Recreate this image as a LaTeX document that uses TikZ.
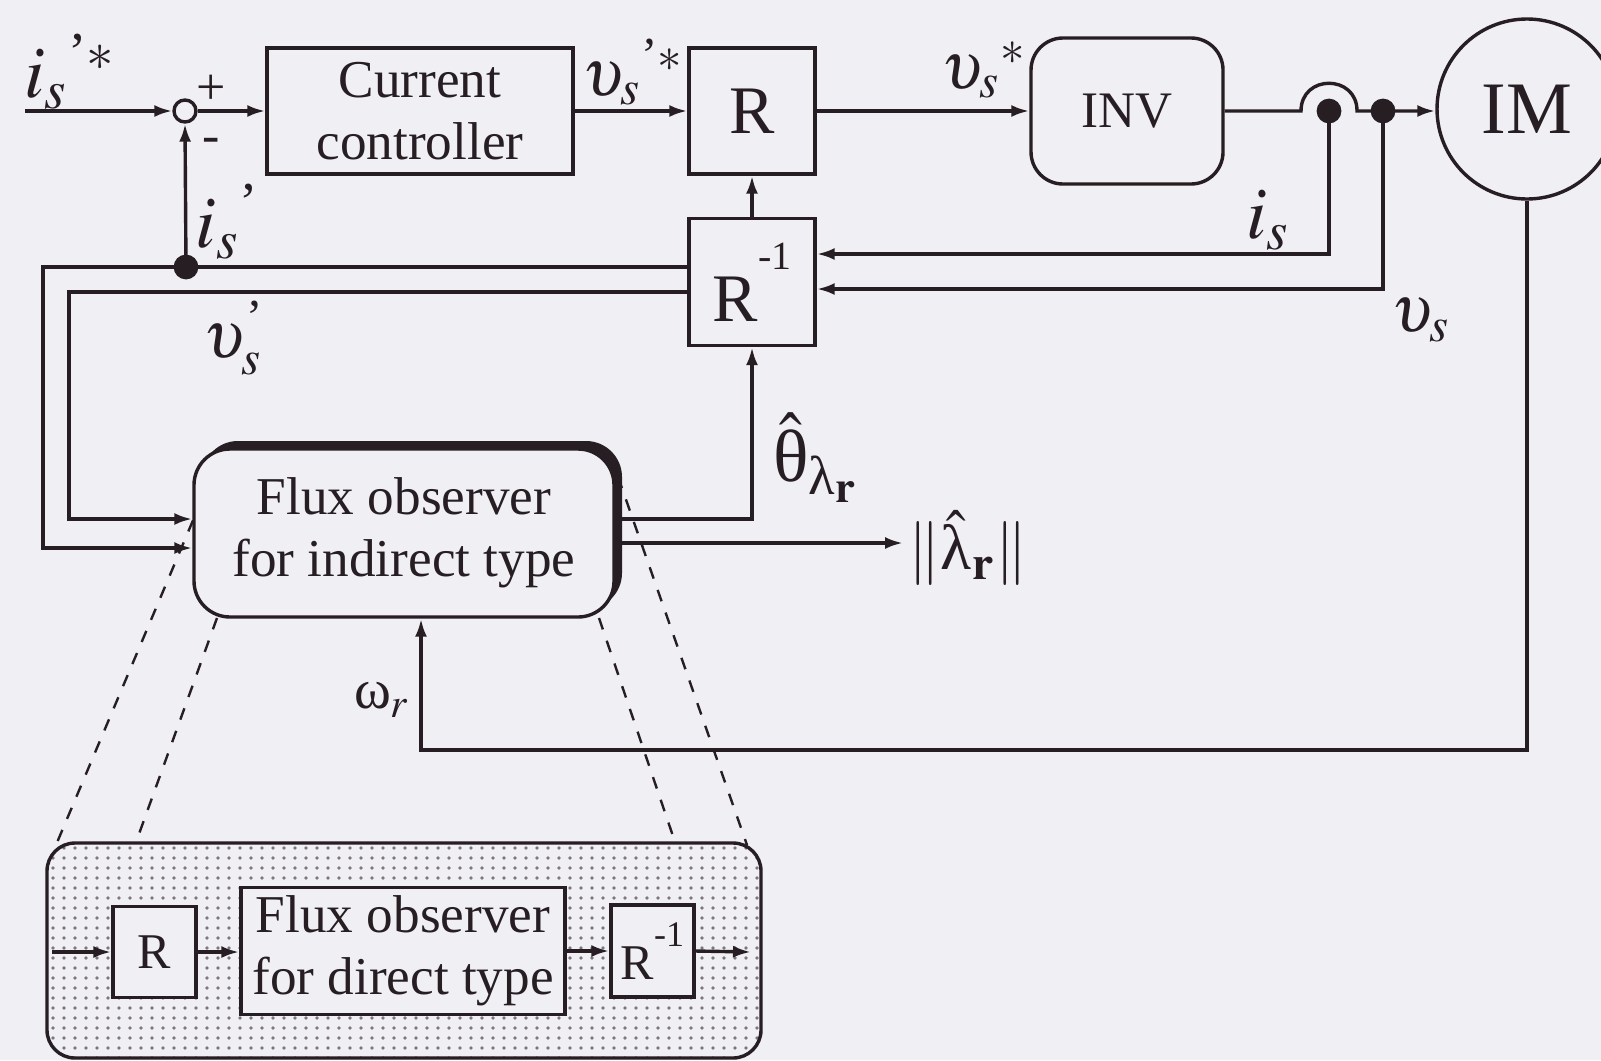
\documentclass[tikz,border=0pt]{standalone}
\usepackage{amsmath}
\usepackage{mathptmx}
\usepackage[no-math]{fontspec}
\setmainfont{Liberation Serif}
\usetikzlibrary{arrows.meta,calc}
\definecolor{bg}{RGB}{240,239,243}
\definecolor{ink}{RGB}{38,30,34}
\definecolor{dotc}{RGB}{125,118,124}
\newcommand{\ap}{\text{’}}
\begin{document}
\begin{tikzpicture}[x=0.25pt,y=-0.25pt,line width=0.85pt,color=ink,
  arr/.style={-{Latex[length=4.5pt,width=3pt]}},
  box/.style={draw,fill=bg,inner sep=0pt,align=center},
  txt/.style={font=\fontsize{13.3}{15.5}\selectfont},
  lab/.style={font=\fontsize{18.5}{21}\selectfont,inner sep=0pt},
  ulab/.style={font=\fontsize{16.5}{19}\selectfont,inner sep=0pt},
  dashln/.style={dash pattern=on 3pt off 3pt,line width=0.6pt},
  jdot/.style={circle,fill=ink,inner sep=0pt,minimum size=6.2pt}]
\fill[bg] (0,0) rectangle (1601,1060);
\useasboundingbox (0,0) rectangle (1601,1060);

% dashed zoom lines
\coordinate (ol1) at (221,454); \coordinate (ol2) at (56,845);
\coordinate (il1) at (217,618); \coordinate (il2) at (135,845);
\coordinate (ir1) at (599,618); \coordinate (ir2) at (676,845);
\coordinate (or1) at (610,454); \coordinate (or2) at (747,845);
\draw[dashln] (ol1) -- (ol2);
\draw[dashln] (il1) -- (il2);
\draw[dashln] (ir1) -- (ir2);
\draw[dashln] (or1) -- (or2);

% flux observer (indirect) with shadow
\fill[rounded corners=9pt] (202,441) rectangle (622,609);
\node[box,rounded corners=9pt,minimum width=105pt,minimum height=42pt,txt] (fo) at (404,533) {Flux observer\\for indirect type};

% lower dotted box
\begin{scope}
\clip[rounded corners=7pt] (47,843) rectangle (761,1058);
\fill[bg] (47,843) rectangle (761,1058);
\foreach \i in {0,...,64}{\foreach \j in {0,...,21}{\fill[dotc] (53+11*\i,848+10*\j) circle (0.45pt);}}
\end{scope}
\draw[rounded corners=7pt] (47,843) rectangle (761,1058);
\node[box,minimum width=20.75pt,minimum height=22.75pt,font=\fontsize{12.5}{14}\selectfont] (lR) at (154.5,952) {R};
\node[box,minimum width=81pt,minimum height=31.75pt,txt] (lF) at (403,951) {Flux observer\\for direct type};
\node[box,minimum width=20.75pt,minimum height=23pt,font=\fontsize{12.5}{14}\selectfont] (lRi) at (652.5,951) {R\raisebox{8.3pt}{\fontsize{9}{9}\selectfont -1}};
\coordinate (lin) at (52,952);
\coordinate (lout) at (751,952);
\draw[arr] (lin) -- (lR.west);
\draw[arr] (lR.east) -- (lF.west |- lR.east);
\draw[arr] (lF.east |- lRi.west) -- (lRi.west);
\draw[arr] (lRi.east) -- (lout);

% top row
\node[box,circle,minimum size=5.5pt] (sum) at (185,111) {};
\node[box,minimum width=76.5pt,minimum height=31.5pt,txt] (cc) at (420,111) {Current\\controller};
\node[box,minimum width=31.5pt,minimum height=31.5pt,font=\fontsize{17}{19}\selectfont] (R) at (752,111) {R};
\node[box,rounded corners=8pt,minimum width=48pt,minimum height=36.5pt,font=\fontsize{12.8}{15}\selectfont] (inv) at (1127,111) {INV};
\node[box,circle,minimum size=45pt,font=\fontsize{18.5}{20}\selectfont] (im) at (1527,109) {IM};
\node[box,minimum width=31.5pt,minimum height=31.75pt,font=\fontsize{17}{19}\selectfont] (ri) at (752,282) {R\raisebox{13pt}{\fontsize{10}{10}\selectfont -1}};

\node[font=\fontsize{13}{13}\selectfont,inner sep=0pt] (plus) at (211,90) {+};
\node[font=\fontsize{13}{13}\selectfont,inner sep=0pt] (minus) at (211,145) {-};

\coordinate (in) at (25,111);
\draw[arr] (in) -- (sum.west);
\draw[arr] (sum.east) -- (cc.west);
\draw[arr] (cc.east) -- (R.west);
\draw[arr] (R.east) -- (inv.west);

\coordinate (j1) at (1301,111);
\coordinate (j2) at (1357,111);
\node[jdot] (d1) at (1329,111) {};
\node[jdot] (d2) at (1383,111) {};
\draw[arr] (inv.east) -- (j1) .. controls (1301,74) and (1357,74) .. (j2) -- (im.west |- j2);

\coordinate (c1) at (1329,254);
\coordinate (c2) at (1383,289);
\draw[arr] (d1.center) -- (c1) -- (c1 -| ri.east);
\draw[arr] (d2.center) -- (c2) -- (c2 -| ri.east);
\draw[arr] (ri.north) -- (R.south);

\node[jdot] (d3) at (186,267) {};
\draw[arr] (d3.center) -- (sum.south);
\coordinate (a1) at (43,267); \coordinate (a2) at (43,548);
\draw[arr] (a1 -| ri.west) -- (a1) -- (a2) -- (a2 -| fo.west);
\coordinate (b1) at (69,292); \coordinate (b2) at (69,519);
\draw[arr] (b1 -| ri.west) -- (b1) -- (b2) -- (b2 -| fo.west);

\coordinate (e1) at (752,519);
\draw[arr] (e1 -| fo.east) -- (e1) -- (ri.south);
\coordinate (e2) at (903,543);
\draw[arr] (e2 -| fo.east) -- (e2);

\coordinate (w1) at (1527,750); \coordinate (w2) at (421,750);
\draw[arr] (im.south) -- (w1) -- (w2) -- (w2 |- fo.south);

% labels
\node[lab] (lis) at (70,72) {$i_s{}^{\ap *}$};
\node[ulab] (lvs1) at (633,72) {$\upsilon_s{}^{\ap *}$};
\node[ulab] (lvs2) at (984,70) {$\upsilon_s{}^{*}$};
\node[lab] (lis2) at (228,222) {$i_s{}^{\ap}$};
\node[ulab] (lvs3) at (234,338) {$\upsilon^{\ap}_s$};
\node[lab] (lis3) at (1268,220) {$i_s$};
\node[ulab] (lvs4) at (1421,320) {$\upsilon_s$};
\node[lab] (lth) at (816,458) {$\hat{\text{θ}}_{\text{λ}_{\mathbf{r}}}$};
\node[lab,font=\fontsize{16}{18}\selectfont] (lam) at (968,548) {$\|\hat{\text{λ}}_{\mathbf{r}}\|$};
\node[lab,font=\fontsize{14}{16}\selectfont] (lom) at (382,700) {$\text{ω}_r$};
\end{tikzpicture}
\end{document}
